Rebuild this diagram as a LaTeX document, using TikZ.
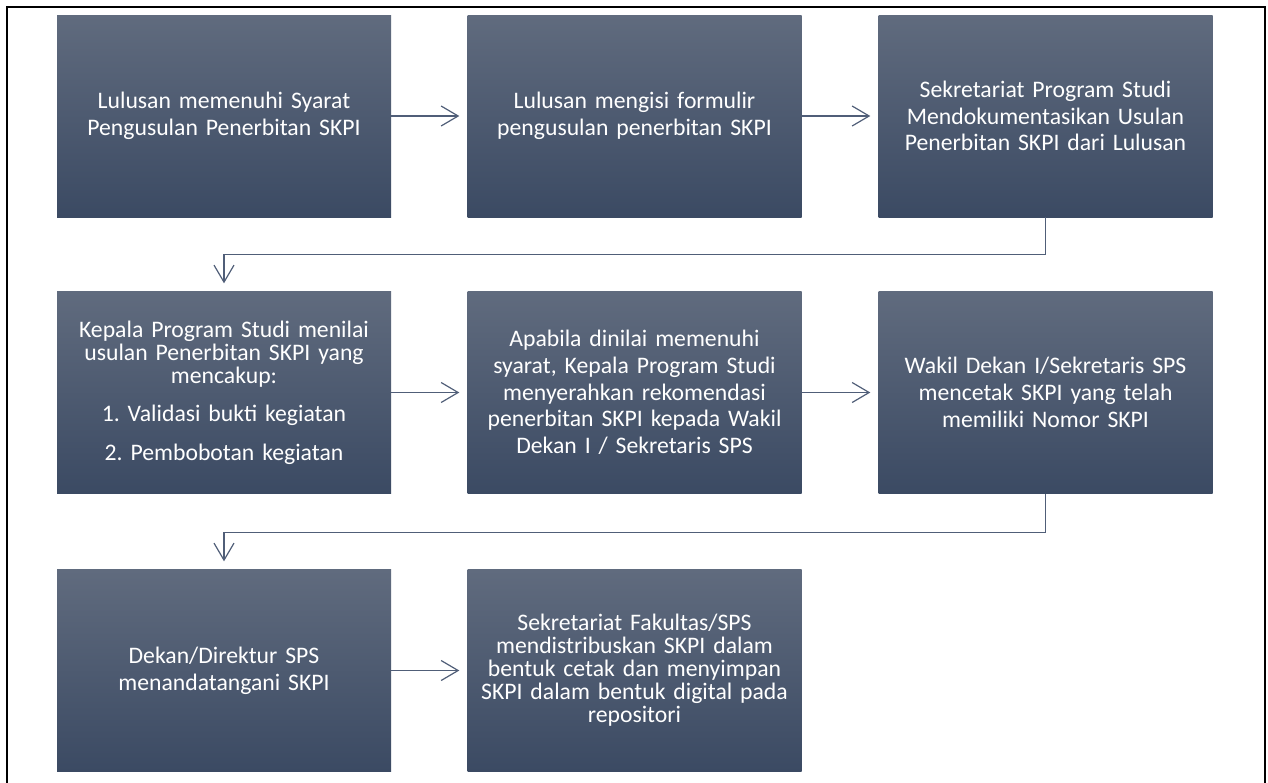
\documentclass[tikz,border=0pt]{standalone}
\usepackage{fontspec}
\setmainfont{Carlito}
\usetikzlibrary{arrows.meta,backgrounds}
\definecolor{boxtop}{RGB}{96,107,126}
\definecolor{boxbot}{RGB}{59,74,99}
\definecolor{conn}{RGB}{80,94,120}
\frenchspacing
\tikzset{
  flowbox/.style={minimum width=334pt, minimum height=202pt, inner sep=0pt,
    align=center, text=white, top color=boxtop, bottom color=boxbot,
    text width=324pt, font=\fontsize{23.7}{26.7}\selectfont\frenchspacing},
  tightbox/.style={flowbox, font=\fontsize{23.7}{23}\selectfont\frenchspacing},
  conline/.style={draw=conn, line width=1.2pt, shorten >=8pt,
    -{Straight Barb[length=17pt, width=20pt, line width=1.2pt]}},
}
\begin{document}
\begin{tikzpicture}[x=1pt, y=-1pt]
\useasboundingbox (0,0) rectangle (1268,782);
\fill[white] (0,0) rectangle (1268,782);
\draw[line width=2pt] (7,800) |- (1265,7) -- (1265,800);

\node[flowbox] (b1) at (224,116) {Lulusan memenuhi Syarat\\Pengusulan Penerbitan SKPI};
\node[flowbox] (b2) at (634.5,116) {Lulusan mengisi formulir\\pengusulan penerbitan SKPI};
\node[flowbox] (b3) at (1045.5,116) {Sekretariat Program Studi\\Mendokumentasikan Usulan\\Penerbitan SKPI dari Lulusan};
\node[tightbox] (b4) at (224,392.5) {Kepala Program Studi menilai\\usulan Penerbitan SKPI yang\\mencakup:\\[15.5pt]1. Validasi bukti kegiatan\\[15.5pt]2. Pembobotan kegiatan};
\node[flowbox] (b5) at (634.5,392.5) {Apabila dinilai memenuhi\\syarat, Kepala Program Studi\\menyerahkan rekomendasi\\penerbitan SKPI kepada Wakil\\Dekan I / Sekretaris SPS};
\node[flowbox] (b6) at (1045.5,392.5) {Wakil Dekan I/Sekretaris SPS\\mencetak SKPI yang telah\\memiliki Nomor SKPI};
\node[flowbox] (b7) at (224,670.5) {Dekan/Direktur SPS\\menandatangani SKPI};
\node[tightbox] (b8) at (634.5,670.5) {Sekretariat Fakultas/SPS\\mendistribuskan SKPI dalam\\bentuk cetak dan menyimpan\\SKPI dalam bentuk digital pada\\repositori};

\begin{scope}[on background layer]
\foreach \n in {b1,b2,b3,b4,b5,b6,b7,b8}{
  \fill[black!4] ([shift={(-7,-7)}]\n.north west) rectangle ([shift={(7,9)}]\n.south east);
  \fill[black!8] ([shift={(-4,-4)}]\n.north west) rectangle ([shift={(4,6)}]\n.south east);
  \fill[black!14] ([shift={(-2,-2)}]\n.north west) rectangle ([shift={(2,4)}]\n.south east);
  \fill[black!42] ([shift={(1,0)}]\n.south west) rectangle ([shift={(3,3.5)}]\n.south east);
}
\end{scope}

\draw[conline] (b1.east) -- (b2.west);
\draw[conline] (b2.east) -- (b3.west);
\draw[conline] (b3.south) -- ++(0,37) -| (b4.north);
\draw[conline] (b4.east) -- (b5.west);
\draw[conline] (b5.east) -- (b6.west);
\draw[conline] (b6.south) -- ++(0,39) -| (b7.north);
\draw[conline] (b7.east) -- (b8.west);
\end{tikzpicture}
\end{document}
